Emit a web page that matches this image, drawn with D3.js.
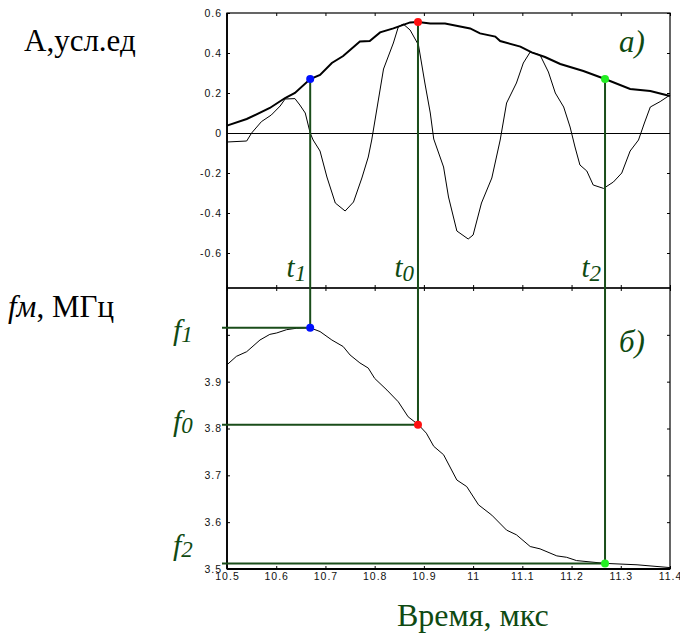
<!DOCTYPE html>
<meta charset="utf-8">
<head>
    <script src="https://d3js.org/d3.v7.min.js"></script>
    <style>
        body { margin: 0; background: #fff; }
        .tick text { font: 10.5px Arial, "Liberation Sans", sans-serif; fill: #111; letter-spacing: 1px; }
        .tick line { stroke: #000; }
        .domain { display: none; }
        .big { font-family: "Times New Roman", "Liberation Serif", serif; }
        .green { fill: #0f4a12; }
    </style>
    <title>Envelope and frequency</title>
</head>
<body>
<svg id="chart" width="680" height="633"></svg>

<script>
    // envelope of the signal (thick line, top panel)
    var envT = [10.5, 10.54, 10.587, 10.618, 10.638, 10.669, 10.689, 10.713, 10.736, 10.77, 10.79, 10.811, 10.838,
        10.872, 10.888, 10.913, 10.943, 10.994, 11.014, 11.045, 11.055, 11.096, 11.119, 11.146, 11.177, 11.224,
        11.268, 11.319, 11.36, 11.4];
    var envA = [0.037, 0.07, 0.125, 0.175, 0.2, 0.27, 0.29, 0.35, 0.385, 0.457, 0.46, 0.503, 0.523,
        0.553, 0.555, 0.548, 0.548, 0.523, 0.498, 0.482, 0.46, 0.432, 0.403, 0.38, 0.345, 0.31,
        0.27, 0.22, 0.21, 0.185];

    // signal (thin line, top panel)
    var sigT = [10.5, 10.54, 10.55, 10.57, 10.59, 10.608, 10.618, 10.638, 10.648, 10.659, 10.669, 10.675, 10.689,
        10.703, 10.72, 10.74, 10.757, 10.774, 10.787, 10.794, 10.818, 10.838, 10.848, 10.858, 10.872, 10.889,
        10.902, 10.913, 10.92, 10.94, 10.95, 10.967, 10.99, 11.0, 11.017, 11.038, 11.055, 11.068, 11.088,
        11.102, 11.116, 11.136, 11.153, 11.167, 11.184, 11.197, 11.207, 11.217, 11.231, 11.244, 11.265,
        11.285, 11.302, 11.319, 11.336, 11.348, 11.36, 11.38, 11.4];
    var sigA = [-0.045, -0.04, 0, 0.057, 0.09, 0.135, 0.17, 0.172, 0.14, 0.1, 0, -0.035, -0.09,
        -0.22, -0.35, -0.39, -0.345, -0.225, -0.12, -0.035, 0.32, 0.45, 0.53, 0.545, 0.515, 0.44,
        0.25, 0.1, -0.03, -0.17, -0.32, -0.49, -0.53, -0.51, -0.35, -0.225, -0.035, 0.15, 0.25,
        0.35, 0.405, 0.39, 0.305, 0.2, 0.13, 0.03, -0.07, -0.16, -0.19, -0.26, -0.277,
        -0.245, -0.2, -0.09, -0.035, 0.05, 0.13, 0.157, 0.19];

    // instantaneous frequency (bottom panel)
    var fmT = [10.5, 10.519, 10.54, 10.567, 10.587, 10.601, 10.621, 10.641, 10.669, 10.689, 10.713, 10.736, 10.75,
        10.77, 10.787, 10.8, 10.825, 10.848, 10.868, 10.889, 10.905, 10.92, 10.94, 10.967, 10.987, 11.011,
        11.038, 11.068, 11.088, 11.116, 11.136, 11.17, 11.19, 11.21, 11.268, 11.333, 11.4];
    var fmV = [3.936, 3.954, 3.964, 3.989, 4.001, 4.004, 4.011, 4.014, 4.015, 4.007, 3.989, 3.975, 3.957,
        3.94, 3.929, 3.907, 3.882, 3.857, 3.825, 3.808, 3.79, 3.762, 3.744, 3.69, 3.676, 3.637,
        3.615, 3.583, 3.573, 3.548, 3.543, 3.528, 3.525, 3.518, 3.512, 3.509, 3.503];

    // marked instants
    var markT = [10.669, 10.888, 11.268];
    var markA = [0.27, 0.555, 0.27];
    var markF = [4.015, 3.808, 3.512];
    var markColor = ["#0010ff", "#ff1010", "#22ee22"];
    var markSub = ["1", "0", "2"];

    var xTicks = [10.5, 10.6, 10.7, 10.8, 10.9, 11, 11.1, 11.2, 11.3, 11.4];
    var aTicks = [-0.6, -0.4, -0.2, 0, 0.2, 0.4, 0.6];
    var fTicks = [3.5, 3.6, 3.7, 3.8, 3.9, 4.0];

    var svg = d3.select("#chart");
    var pLeft = 227, pRight = 670, pTop = 13, pMid = 288, pBottom = 569;
    var green = "#1a4d1a";

    var x = d3.scaleLinear().domain([10.5, 11.4]).range([pLeft, pRight]);
    var yA = d3.scaleLinear().domain([-0.775, 0.6]).range([pMid, pTop]);
    var yF = d3.scaleLinear().domain([3.5, 4.1]).range([pBottom, pMid]);

    var fmtA = function (d) { return d === 0 ? "0" : d.toFixed(1); };
    var fmtX = function (d) { return String(+d.toFixed(1)); };

    // top panel axes (ticks inward)
    svg.append("g").attr("transform", "translate(" + pLeft + ",0)")
        .call(d3.axisLeft(yA).tickValues(aTicks).tickFormat(fmtA).tickSize(-3).tickPadding(5));
    svg.append("g").attr("transform", "translate(" + pRight + ",0)")
        .call(d3.axisRight(yA).tickValues(aTicks).tickFormat("").tickSize(-3));
    svg.append("g").attr("transform", "translate(0," + pTop + ")")
        .call(d3.axisTop(x).tickValues(xTicks).tickFormat("").tickSize(-3));
    svg.append("g").attr("transform", "translate(0," + pMid + ")")
        .call(d3.axisBottom(x).tickValues(xTicks).tickFormat("").tickSize(-3));

    // bottom panel axes
    svg.append("g").attr("transform", "translate(" + pLeft + ",0)")
        .call(d3.axisLeft(yF).tickValues(fTicks).tickFormat(function (d) { return d < 3.95 ? d.toFixed(1) : ""; })
            .tickSize(-3).tickPadding(5));
    svg.append("g").attr("transform", "translate(" + pRight + ",0)")
        .call(d3.axisRight(yF).tickValues(fTicks).tickFormat("").tickSize(-3));
    svg.append("g").attr("transform", "translate(0," + pMid + ")")
        .call(d3.axisTop(x).tickValues(xTicks).tickFormat("").tickSize(-3));
    svg.append("g").attr("transform", "translate(0," + pBottom + ")")
        .call(d3.axisBottom(x).tickValues(xTicks).tickFormat(fmtX).tickSize(-3).tickPadding(4));

    // frames
    svg.append("rect").attr("x", pLeft).attr("y", pTop).attr("width", pRight - pLeft).attr("height", pMid - pTop)
        .attr("fill", "none").attr("stroke", "#000").attr("stroke-width", 1.2);
    svg.append("rect").attr("x", pLeft).attr("y", pMid).attr("width", pRight - pLeft).attr("height", pBottom - pMid)
        .attr("fill", "none").attr("stroke", "#000").attr("stroke-width", 1.2);
    svg.append("line").attr("x1", pLeft).attr("x2", pLeft).attr("y1", pTop).attr("y2", pBottom)
        .attr("stroke", "#000").attr("stroke-width", 1.8);
    svg.append("line").attr("x1", pLeft).attr("x2", pRight).attr("y1", pBottom).attr("y2", pBottom)
        .attr("stroke", "#000").attr("stroke-width", 1.8);

    // zero line
    svg.append("line").attr("x1", pLeft).attr("x2", pRight).attr("y1", Math.round(yA(0)) + 0.5).attr("y2", Math.round(yA(0)) + 0.5)
        .attr("stroke", "#000").attr("stroke-width", 1);

    var line = d3.line();

    svg.append("path")
        .attr("d", line(sigT.map(function (t, i) { return [x(t), yA(sigA[i])]; })))
        .attr("fill", "none").attr("stroke", "#000").attr("stroke-width", 1);
    svg.append("path")
        .attr("d", line(envT.map(function (t, i) { return [x(t), yA(envA[i])]; })))
        .attr("fill", "none").attr("stroke", "#000").attr("stroke-width", 2);
    svg.append("path")
        .attr("d", line(fmT.map(function (t, i) { return [x(t), yF(fmV[i])]; })))
        .attr("fill", "none").attr("stroke", "#000").attr("stroke-width", 1);

    // projection lines
    markT.forEach(function (t, i) {
        svg.append("line").attr("x1", x(t)).attr("x2", x(t)).attr("y1", yA(markA[i])).attr("y2", yF(markF[i]))
            .attr("stroke", green).attr("stroke-width", 2);
        svg.append("line").attr("x1", pLeft - 5).attr("x2", x(t)).attr("y1", yF(markF[i])).attr("y2", yF(markF[i]))
            .attr("stroke", green).attr("stroke-width", 2);
    });

    // dots
    markT.forEach(function (t, i) {
        svg.append("circle").attr("cx", x(t)).attr("cy", yA(markA[i])).attr("r", 4).attr("fill", markColor[i]);
        svg.append("circle").attr("cx", x(t)).attr("cy", yF(markF[i])).attr("r", 4).attr("fill", markColor[i]);
    });

    // t and f labels
    var fOffset = [12, 6, -8];
    markT.forEach(function (t, i) {
        var tl = svg.append("text").attr("class", "big green").attr("x", x(t) - 4).attr("y", pMid - 11)
            .attr("text-anchor", "end").style("font-size", "29px").style("font-style", "italic");
        tl.append("tspan").text("t");
        tl.append("tspan").attr("dy", 4).style("font-size", "23px").text(markSub[i]);

        var fl = svg.append("text").attr("class", "big green").attr("x", 173).attr("y", yF(markF[i]) + fOffset[i])
            .style("font-size", "30px").style("font-style", "italic");
        fl.append("tspan").text("f");
        fl.append("tspan").attr("dy", 2).style("font-size", "23px").text(markSub[i]);
    });

    svg.append("text").attr("class", "big green").attr("x", 619).attr("y", 52)
        .style("font-size", "31px").style("font-style", "italic").text("a)");
    svg.append("text").attr("class", "big green").attr("x", 619).attr("y", 352)
        .style("font-size", "31px").style("font-style", "italic").text("б)");

    // axis titles
    svg.append("text").attr("class", "big").attr("x", 24).attr("y", 51).style("font-size", "31px").text("А,усл.ед");
    var ft = svg.append("text").attr("class", "big").attr("x", 8).attr("y", 317).style("font-size", "31px");
    ft.append("tspan").style("font-style", "italic").text("fм");
    ft.append("tspan").text(", МГц");
    svg.append("text").attr("class", "big green").attr("x", 397).attr("y", 626).style("font-size", "32px")
        .text("Время, мкс");
</script>
</body>
